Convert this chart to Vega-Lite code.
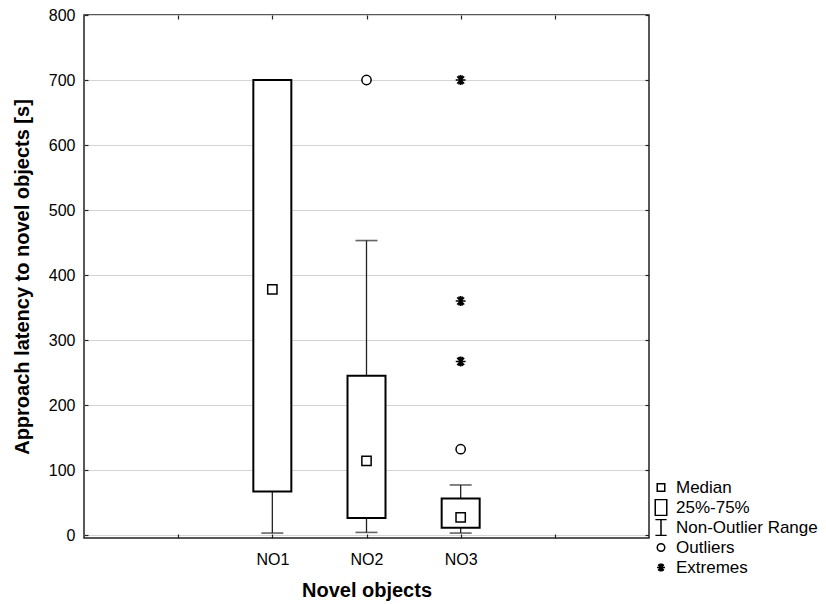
{
  "$schema": "https://vega.github.io/schema/vega-lite/v6.json",
  "width": 565,
  "height": 523,
  "autosize": {"type": "none"},
  "padding": {"left": 84, "top": 15, "right": 177, "bottom": 66},
  "background": "white",
  "config": {
    "font": "Liberation Sans",
    "view": {"stroke": "#222222", "strokeWidth": 1.5},
    "axis": {
      "domain": false,
      "labelFont": "Liberation Sans",
      "labelFontSize": 16,
      "labelColor": "black",
      "titleFont": "Liberation Sans",
      "titleFontSize": 20,
      "titleFontWeight": "bold",
      "titleColor": "black",
      "tickColor": "#222222",
      "tickWidth": 1.2,
      "gridColor": "#d4d4d4",
      "gridWidth": 1
    },
    "legend": {
      "labelFont": "Liberation Sans",
      "labelFontSize": 17,
      "labelColor": "black"
    }
  },
  "datasets": {
    "boxes": [
      {"object": "NO1", "lo": 3, "q1": 67, "med": 378, "q3": 700, "hi": 700},
      {"object": "NO2", "lo": 4, "q1": 26, "med": 114, "q3": 245, "hi": 453},
      {"object": "NO3", "lo": 3, "q1": 11, "med": 27, "q3": 56, "hi": 77}
    ],
    "points": [
      {"object": "NO1", "value": 378, "type": "Median"},
      {"object": "NO2", "value": 114, "type": "Median"},
      {"object": "NO3", "value": 27, "type": "Median"},
      {"object": "NO2", "value": 700, "type": "Outliers"},
      {"object": "NO3", "value": 132, "type": "Outliers"},
      {"object": "NO3", "value": 700, "type": "Extremes"},
      {"object": "NO3", "value": 360, "type": "Extremes"},
      {"object": "NO3", "value": 267, "type": "Extremes"}
    ]
  },
  "layer": [
    {
      "data": {"name": "boxes"},
      "mark": {"type": "rule", "color": "#222222", "strokeWidth": 1.3},
      "encoding": {
        "x": {
          "field": "object", "type": "nominal",
          "scale": {"type": "point", "domain": ["L", "NO1", "NO2", "NO3", "R"], "padding": 1},
          "axis": {
            "orient": "bottom",
            "title": "Novel objects",
            "labelExpr": "indexof(['NO1','NO2','NO3'], datum.value) >= 0 ? datum.value : ''",
            "labelAngle": 0,
            "tickSize": -4,
            "labelPadding": 17,
            "titlePadding": 13,
            "grid": false
          }
        },
        "y": {
          "field": "lo", "type": "quantitative",
          "scale": {"domain": [-4.6, 800], "nice": false, "zero": false},
          "axis": {
            "orient": "left",
            "title": "Approach latency to novel objects [s]",
            "values": [0, 100, 200, 300, 400, 500, 600, 700, 800],
            "tickSize": -4,
            "labelPadding": 13,
            "titlePadding": 16,
            "grid": true
          }
        },
        "y2": {"field": "hi"}
      }
    },
    {
      "data": {"name": "boxes"},
      "mark": {"type": "tick", "orient": "horizontal", "size": 22, "thickness": 1.6, "color": "#222222"},
      "encoding": {
        "x": {
          "field": "object", "type": "nominal",
          "axis": {"orient": "top", "title": null, "labels": false, "tickSize": -4, "grid": false}
        },
        "y": {
          "field": "lo", "type": "quantitative",
          "axis": {"orient": "right", "title": null, "labels": false, "tickSize": -4, "grid": false,
                   "values": [0, 100, 200, 300, 400, 500, 600, 700, 800]}
        }
      }
    },
    {
      "data": {"name": "boxes"},
      "mark": {"type": "tick", "orient": "horizontal", "size": 22, "thickness": 1.6, "color": "#222222"},
      "encoding": {
        "x": {"field": "object", "type": "nominal", "axis": null},
        "y": {"field": "hi", "type": "quantitative", "axis": null}
      }
    },
    {
      "data": {"name": "boxes"},
      "mark": {"type": "bar", "width": 38, "fill": "white", "stroke": "black", "strokeWidth": 2},
      "encoding": {
        "x": {"field": "object", "type": "nominal", "axis": null},
        "y": {"field": "q1", "type": "quantitative", "axis": null},
        "y2": {"field": "q3"}
      }
    },
    {
      "data": {"name": "points"},
      "transform": [{"filter": "datum.type === 'Outliers'"}],
      "mark": {"type": "point", "shape": "circle", "filled": true, "color": "white", "size": 60, "opacity": 1},
      "encoding": {
        "x": {"field": "object", "type": "nominal", "axis": null},
        "y": {"field": "value", "type": "quantitative", "axis": null}
      }
    },
    {
      "data": {"name": "points"},
      "mark": {"type": "point", "filled": false, "stroke": "black", "strokeWidth": 1.5, "size": 390, "opacity": 1},
      "encoding": {
        "x": {"field": "object", "type": "nominal", "axis": null},
        "y": {"field": "value", "type": "quantitative", "axis": null},
        "shape": {
          "field": "type", "type": "nominal",
          "scale": {
            "domain": ["Median", "25%-75%", "Non-Outlier Range", "Outliers", "Extremes"],
            "range": [
              "M-0.47,-0.47H0.47V0.47H-0.47Z",
              "M-0.72,-1H0.72V1H-0.72Z",
              "M-0.7,-1H0.7M0,-1V1M-0.7,1H0.7",
              "M0.47,0A0.47,0.47,0,1,1,-0.47,0A0.47,0.47,0,1,1,0.47,0Z",
              "M-0.5,0H0.5M0,-0.5V0.5M-0.36,-0.36L0.36,0.36M-0.36,0.36L0.36,-0.36M-0.2,-0.46L0.2,0.46M-0.2,0.46L0.2,-0.46"
            ]
          },
          "legend": {
            "orient": "none",
            "legendX": 568,
            "legendY": 464,
            "title": null,
            "padding": 0,
            "symbolSize": 256,
            "symbolStrokeColor": "black",
            "symbolStrokeWidth": 1.5,
            "labelOffset": 6,
            "rowPadding": 2,
            "clipHeight": 17,
            "labelLimit": 300
          }
        }
      }
    }
  ]
}
